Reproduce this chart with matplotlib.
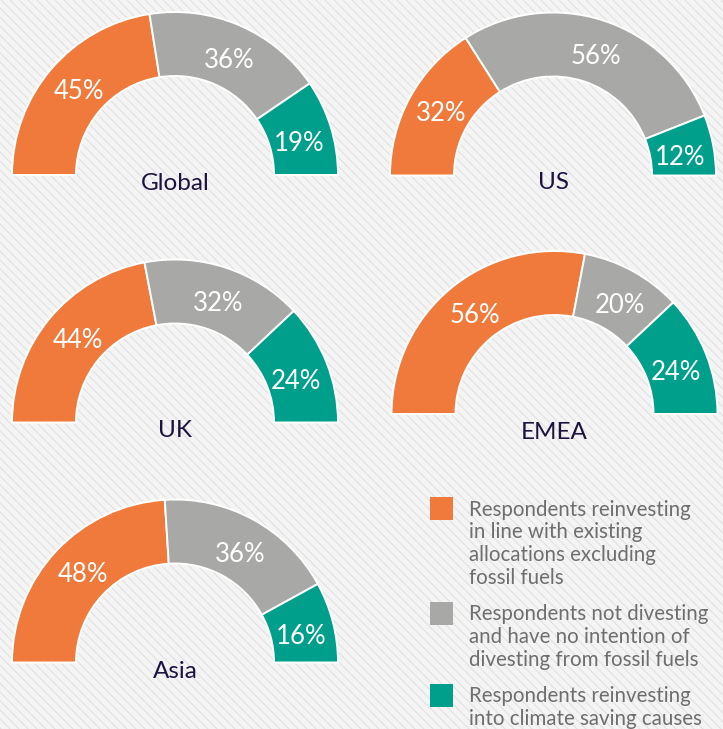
import numpy as np
import matplotlib
matplotlib.use("Agg")
import matplotlib.pyplot as plt
from matplotlib.patches import Wedge, Rectangle
from matplotlib.collections import LineCollection

# data
regions = ["Global", "US", "UK", "EMEA", "Asia"]
reinvesting_existing = [45, 32, 44, 56, 48]
not_divesting = [36, 56, 32, 20, 36]
reinvesting_climate = [19, 12, 24, 24, 16]

legend_labels = [
    "Respondents reinvesting\nin line with existing\nallocations excluding\nfossil fuels",
    "Respondents not divesting\nand have no intention of\ndivesting from fossil fuels",
    "Respondents reinvesting\ninto climate saving causes",
]
colors = ["#ef7a3b", "#a8a8a6", "#009f8c"]

# layout (pixel coords, y down): centre x, baseline y, label y
layout = {
    "Global": (175, 175, 183),
    "US": (553, 175.5, 182),
    "UK": (175, 422.5, 430),
    "EMEA": (554.5, 414, 432),
    "Asia": (175, 662.5, 672),
}
R_OUT, R_IN = 163, 99

plt.rcParams['font.family'] = ['Lato', 'DejaVu Sans']

fig = plt.figure(figsize=(7.23, 7.29), dpi=100)
ax = fig.add_axes([0, 0, 1, 1])
ax.set_xlim(0, 723)
ax.set_ylim(729, 0)
ax.axis("off")

# striped background
ax.add_patch(Rectangle((0, 0), 723, 729, facecolor="#f4f4f4", edgecolor="none", zorder=0))
segs = [[(x0, 0), (x0 + 800, 800)] for x0 in np.arange(-800, 723, 9)]
ax.add_collection(LineCollection(segs, colors="#e1e1e1", linewidths=0.8, zorder=1))

for i, name in enumerate(regions):
    cx, cy, ly = layout[name]
    vals = [reinvesting_existing[i], not_divesting[i], reinvesting_climate[i]]
    start = 180.0
    for v, c in zip(vals, colors):
        span = v / sum(vals) * 180.0
        ax.add_patch(Wedge((cx, cy), R_OUT, start, start + span, width=R_OUT - R_IN,
                           facecolor=c, edgecolor="white", linewidth=1.4, zorder=2))
        mid = np.radians(start + span / 2 + 1.5)
        rm = (R_OUT + R_IN) / 2 - 2
        ax.text(cx + rm * np.cos(mid), cy + rm * np.sin(mid) + 3, f"{v}%",
                color="white", fontsize=18.5, ha="center", va="center", zorder=3)
        start += span
    ax.text(cx, ly, name, color="#1e1240", fontsize=17.5, ha="center", va="center", zorder=3)

# legend
leg_y = [497, 602, 684]
for lab, c, y in zip(legend_labels, colors, leg_y):
    ax.add_patch(Rectangle((430, y), 23, 23, facecolor=c, edgecolor="none", zorder=2))
    ax.text(469, y + 2.5, lab, color="#6e6e6e", fontsize=14.8, ha="left", va="top",
            linespacing=1.18, zorder=3)

fig.savefig("out.png", dpi=100, facecolor="#f4f4f4")
